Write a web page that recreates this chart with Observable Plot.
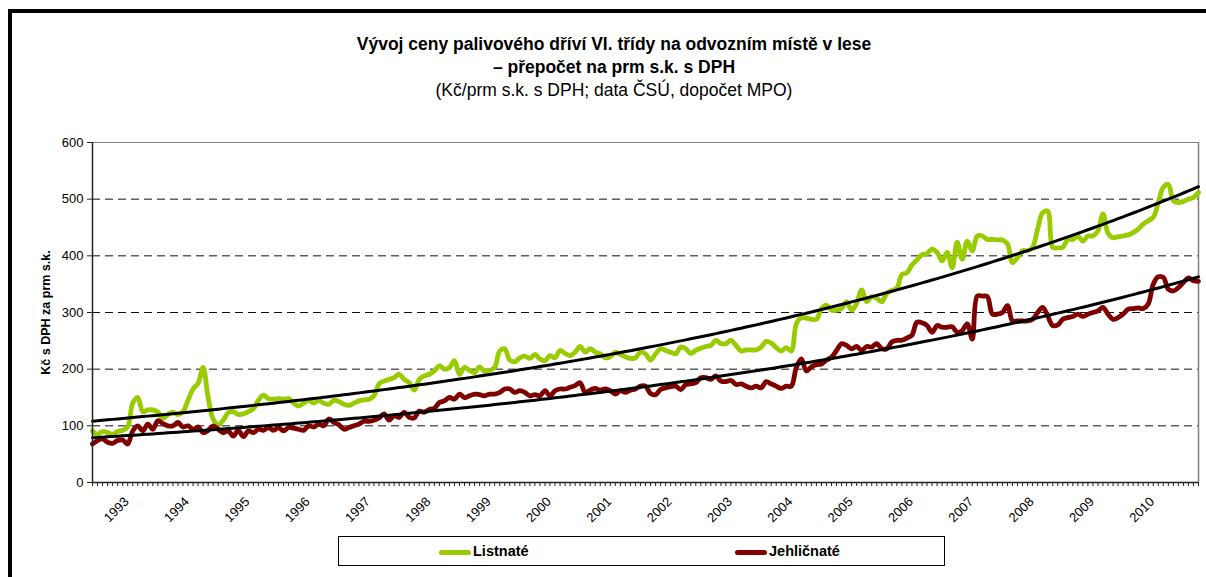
<!DOCTYPE html>
<html>
<head>
<meta charset="utf-8">
<script src="https://cdn.jsdelivr.net/npm/d3@7"></script>
<script src="https://cdn.jsdelivr.net/npm/@observablehq/plot@0.6"></script>
<style>
  html, body { margin: 0; padding: 0; background: #fff; }
  #wrap { position: relative; width: 1206px; height: 577px; overflow: hidden; font-family: "Liberation Sans", Arial, sans-serif; }
  #frame { position: absolute; left: 8px; top: 9px; width: 1400px; height: 800px; border-left: 4.5px solid #000; border-top: 4.5px solid #000; box-sizing: border-box; }
  #chart { position: absolute; left: 0; top: 0; }
  .t { position: absolute; left: 214px; width: 800px; text-align: center; line-height: 18px; font-size: 17.5px; color: #000; white-space: nowrap; }
  .b { font-weight: bold; }
  #legend { position: absolute; left: 338px; top: 536px; width: 607px; height: 30px; border: 1.5px solid #000; box-sizing: border-box; background: #fff; }
  .sw { position: absolute; top: 12.5px; width: 32px; height: 5px; border-radius: 2.5px; }
  .lt { position: absolute; top: 7px; font-size: 14.5px; line-height: 15px; font-weight: bold; color: #000; }
</style>
</head>
<body>
<div id="wrap">
  <div id="frame"></div>
  <div id="chart"></div>
  <div class="t b" style="top:35px">Vývoj ceny palivového dříví VI. třídy na odvozním místě v lese</div>
  <div class="t b" style="top:58px">– přepočet na prm s.k. s DPH</div>
  <div class="t" style="top:81px">(Kč/prm s.k. s DPH; data ČSÚ, dopočet MPO)</div>
  <div id="legend"></div>
</div>
<script>
// Monthly series, first point June 1992, last October 2010
const startYear = 1992;
const startMonth = 6;

const listnate = [
91,85,90,88,85,90,92,98,140,150,
125,128,128,124,113,120,124,120,125,145,
165,175,203,150,112,102,110,123,125,120,
121,125,130,145,154,148,147,148,147,148,
140,135,140,145,140,145,140,138,145,143,
138,136,140,144,146,147,153,174,179,182,
185,191,182,176,163,182,188,191,197,206,
200,203,215,191,203,198,194,204,196,198,
203,232,236,216,213,220,223,219,226,218,
215,224,220,233,228,224,230,240,230,236,
230,227,220,222,230,226,222,219,220,230,
227,216,227,236,233,230,227,239,236,228,
233,237,240,242,251,245,245,251,242,232,
234,234,234,239,249,246,238,232,238,232,
280,291,290,288,288,307,313,304,304,307,
319,304,316,340,319,328,325,319,334,339,
343,367,370,384,393,402,404,412,406,391,
406,379,424,394,426,409,435,435,429,429,
428,428,421,388,397,409,409,415,447,476,
479,415,414,415,429,429,435,426,435,435,
444,474,440,432,434,435,437,441,447,456,
462,468,494,521,526,497,494,496,500,503,
512
];

const jehlicnate = [
68,74,77,71,69,74,75,68,91,100,
91,103,94,109,104,100,100,106,98,100,
94,98,88,92,100,94,88,91,82,92,
81,91,88,94,92,97,92,97,91,97,
96,94,92,100,98,103,100,112,106,102,
94,97,100,103,108,108,110,114,121,110,
118,115,124,115,114,126,124,129,131,141,
144,150,147,156,150,153,156,155,153,156,
156,159,165,165,159,162,159,153,155,153,
162,153,162,165,165,168,171,176,159,163,
166,163,165,162,156,162,159,163,165,170,
170,157,155,164,167,169,170,164,173,174,
176,185,185,182,188,179,178,180,173,174,
170,167,170,167,178,174,170,166,170,170,
203,218,197,204,208,209,216,221,233,245,
242,236,240,233,240,239,245,236,236,248,
251,251,255,260,283,282,277,265,277,274,
274,275,265,268,280,253,329,329,328,297,
297,300,312,285,285,285,285,288,300,309,
294,277,278,288,291,293,297,293,297,300,
303,309,297,288,291,297,306,307,308,307,
315,350,363,362,341,338,344,353,361,356,
355
];

const yearLabels = ["1993","1994","1995","1996","1997","1998","1999","2000","2001","2002","2003","2004","2005","2006","2007","2008","2009","2010"];
const yTicks = [0, 100, 200, 300, 400, 500, 600];
const gridValues = [100, 200, 300, 400, 500];
const seriesNames = ["Listnaté", "Jehličnaté"];
const seriesColors = ["#99CC00", "#800000"];
const yAxisTitle = "Kč s DPH za prm s.k.";

// month index helpers
const monthIndex = (y, m) => (y - startYear) * 12 + (m - startMonth);
const n = listnate.length;
const months = d3.range(n);
const dataL = listnate.map((v, i) => ({i, v}));
const dataJ = jehlicnate.map((v, i) => ({i, v}));
const years = yearLabels.map(s => ({label: s, i: monthIndex(+s, 1)}));

// Exponential trend (least squares on log values), as Excel does
function expFit(vals) {
  const xs = vals.map((_, i) => i), ys = vals.map(v => Math.log(v));
  const mx = d3.mean(xs), my = d3.mean(ys);
  let sxy = 0, sxx = 0;
  xs.forEach((x, k) => { sxy += (x - mx) * (ys[k] - my); sxx += (x - mx) ** 2; });
  const b = sxy / sxx, a = my - b * mx;
  return months.map(i => ({i, v: Math.exp(a + b * i)}));
}
const trendL = expFit(listnate);
const trendJ = expFit(jehlicnate);

const chart = Plot.plot({
  width: 1206,
  height: 577,
  marginLeft: 92,
  marginRight: 8,
  marginTop: 142,
  marginBottom: 95,
  x: {domain: [0, n - 1]},
  y: {domain: [0, 600]},
  style: {fontFamily: "'Liberation Sans', Arial, sans-serif", background: "transparent", color: "#000"},
  marks: [
    Plot.ruleY(gridValues, {stroke: "#111", strokeWidth: 1, strokeDasharray: "8,5"}),
    Plot.ruleY([600], {stroke: "#808080", strokeWidth: 1.2}),
    Plot.ruleX([n - 1], {stroke: "#808080", strokeWidth: 1.5}),
    Plot.line(dataL, {x: "i", y: "v", stroke: seriesColors[0], strokeWidth: 4.8, curve: "catmull-rom"}),
    Plot.line(dataJ, {x: "i", y: "v", stroke: seriesColors[1], strokeWidth: 4.8, curve: "catmull-rom"}),
    Plot.line(trendL, {x: "i", y: "v", stroke: "#000", strokeWidth: 3}),
    Plot.line(trendJ, {x: "i", y: "v", stroke: "#000", strokeWidth: 3}),
    Plot.ruleX([0], {stroke: "#222", strokeWidth: 1.5}),
    Plot.ruleY([0], {stroke: "#222", strokeWidth: 1.5}),
    Plot.axisY({ticks: yTicks, tickSize: 5, tickPadding: 4, fontSize: 13, label: null, tickFormat: d => String(d), stroke: "#222"}),
    Plot.axisX({ticks: months, tickSize: 4, tickFormat: () => "", label: null, stroke: "#222"}),
    Plot.text(years, {x: "i", y: () => 0, text: "label", rotate: -45, textAnchor: "end", dx: -1, dy: 17, fontSize: 13, fill: "#000"}),
    Plot.text([yAxisTitle], {frameAnchor: "left", textAnchor: "middle", rotate: -90, dx: -47, fontWeight: "bold", fontSize: 12.5, fill: "#000"})
  ]
});
document.getElementById("chart").appendChild(chart);

// Legend
const legend = document.getElementById("legend");
const swLeft = [100, 396];
seriesNames.forEach((name, k) => {
  const sw = document.createElement("div");
  sw.className = "sw";
  sw.style.left = swLeft[k] + "px";
  sw.style.background = seriesColors[k];
  legend.appendChild(sw);
  const t = document.createElement("div");
  t.className = "lt";
  t.style.left = (swLeft[k] + 34) + "px";
  t.textContent = name;
  legend.appendChild(t);
});
</script>
</body>
</html>
